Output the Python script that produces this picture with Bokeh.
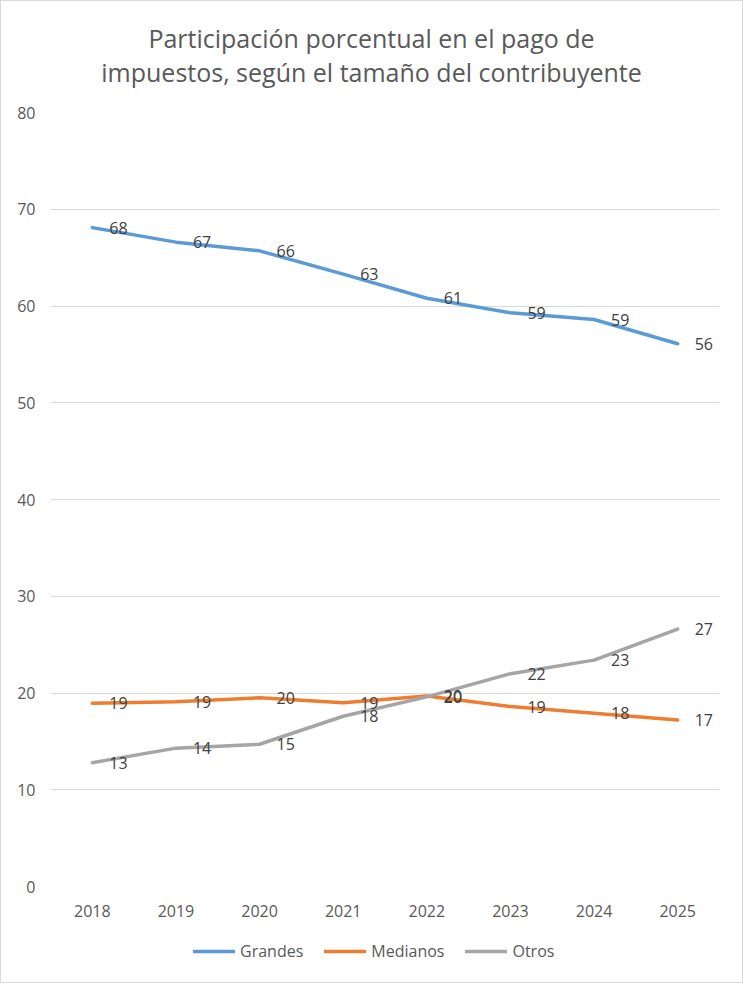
from bokeh.plotting import figure
from bokeh.models import (ColumnDataSource, FactorRange, Range1d, Legend, LegendItem,
                          Label, LabelSet)
from bokeh.layouts import column
from bokeh.core.properties import value
from bokeh.embed import file_html
from bokeh.resources import INLINE

# ---- data ----
years = ["2018", "2019", "2020", "2021", "2022", "2023", "2024", "2025"]
grandes = [68.1, 66.6, 65.7, 63.3, 60.8, 59.3, 58.6, 56.1]
medianos = [18.95, 19.1, 19.5, 19.0, 19.7, 18.6, 17.9, 17.2]
otros = [12.8, 14.3, 14.7, 17.6, 19.6, 22.0, 23.4, 26.6]
series_names = ["Grandes", "Medianos", "Otros"]
series_colors = ["#5B9BD5", "#ED7D31", "#A5A5A5"]
title_lines = ["Participación porcentual en el pago de",
               "impuestos, según el tamaño del contribuyente"]
y_ticks = [0, 10, 20, 30, 40, 50, 60, 70, 80]

FONT = "Open Sans"
TXT = "#595959"
W = 741
FW, FH = 669, 774
BL = 49
BR = W - BL - FW
LW = 3.5


def blank(height):
    f = figure(frame_width=FW, frame_height=height, x_range=FactorRange(*years),
               y_range=Range1d(100, 101), output_backend="svg", toolbar_location=None,
               title=None, x_axis_type=None, y_axis_type=None,
               min_border_left=BL, min_border_right=BR, min_border_top=0, min_border_bottom=0)
    f.outline_line_color = None
    f.background_fill_color = "white"
    f.border_fill_color = "white"
    return f


# ---- header with the two title lines ----
head = blank(101)
for i, line in enumerate(title_lines):
    head.add_layout(Label(x=370 - BL, y=65 - 34 * i, x_units="screen", y_units="screen",
                          text=line, text_align="center", text_baseline="middle",
                          text_font=FONT, text_font_size="25px", text_color=TXT))

# ---- main chart ----
p = figure(frame_width=FW, frame_height=FH, x_range=FactorRange(*years), y_range=Range1d(0, 80),
           output_backend="svg", toolbar_location=None, title=None,
           min_border_left=BL, min_border_right=BR, min_border_top=10,
           min_border_bottom=40)
p.outline_line_color = None
p.background_fill_color = "white"
p.border_fill_color = "white"

p.yaxis.ticker = y_ticks
p.yaxis.axis_line_color = None
p.yaxis.major_tick_line_color = None
p.yaxis.minor_tick_line_color = None
p.yaxis.major_tick_out = 0
p.yaxis.major_tick_in = 0
p.yaxis.major_label_text_font = FONT
p.yaxis.major_label_text_font_size = "16px"
p.yaxis.major_label_text_color = TXT
p.yaxis.major_label_standoff = 15

p.xaxis.axis_line_color = None
p.xaxis.major_tick_line_color = None
p.xaxis.minor_tick_line_color = None
p.xaxis.major_tick_out = 0
p.xaxis.major_tick_in = 0
p.xaxis.major_label_text_font = FONT
p.xaxis.major_label_text_font_size = "16px"
p.xaxis.major_label_text_color = TXT
p.xaxis.major_label_standoff = 18

p.xgrid.grid_line_color = None
p.ygrid.grid_line_color = "#D9D9D9"
p.ygrid.grid_line_width = 1

# ---- legend strip ----
leg = blank(56)
items = []
for name, vals, col in zip(series_names, [grandes, medianos, otros], series_colors):
    src = ColumnDataSource(dict(x=years, y=vals, lab=["%d" % round(v) for v in vals]))
    p.line("x", "y", source=src, line_color=col, line_width=LW,
           line_cap="round", line_join="round")
    p.add_layout(LabelSet(x="x", y="y", text="lab", source=src, x_offset=17, y_offset=0,
                          text_align="left", text_baseline="middle", text_font=value(FONT),
                          text_font_size=value("16px"), text_color="#404040"))
    # same series in the legend strip (its y range keeps the line out of view)
    r = leg.line("x", "y", source=src, line_color=col, line_width=LW, line_cap="round")
    items.append(LegendItem(label=name, renderers=[r]))

legend = Legend(items=items, orientation="horizontal", location=(192 - BL, 20),
                label_text_font=FONT, label_text_font_size="16px", label_text_color=TXT,
                glyph_width=42, glyph_height=20, label_height=20, label_standoff=5,
                spacing=21, padding=0, margin=0, border_line_color=None,
                background_fill_alpha=0)
leg.add_layout(legend, "center")

page = column(head, p, leg, spacing=0, styles={"border": "1px solid #D9D9D9"})

open("out.html", "w").write(file_html(page, INLINE))
